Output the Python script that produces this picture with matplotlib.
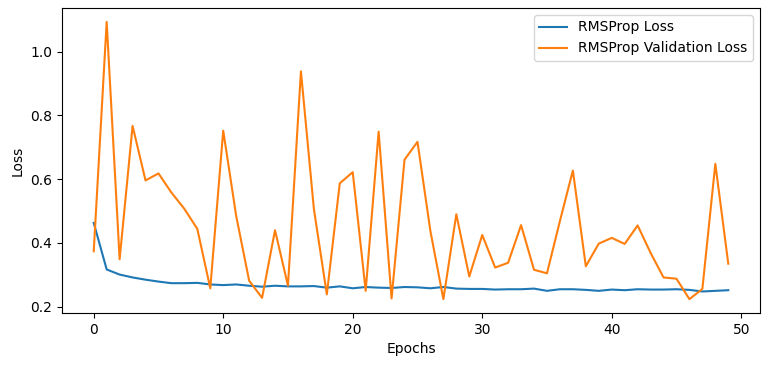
import matplotlib
matplotlib.use("Agg")
import matplotlib.pyplot as plt

epochs = list(range(50))
train_loss = [0.463, 0.317, 0.301, 0.292, 0.285, 0.279, 0.274, 0.274, 0.275, 0.270,
              0.268, 0.270, 0.266, 0.263, 0.266, 0.264, 0.264, 0.265, 0.260, 0.264,
              0.258, 0.262, 0.260, 0.259, 0.262, 0.261, 0.258, 0.262, 0.257, 0.256,
              0.256, 0.254, 0.255, 0.255, 0.257, 0.250, 0.255, 0.255, 0.253, 0.250,
              0.254, 0.252, 0.255, 0.254, 0.254, 0.255, 0.253, 0.248, 0.250, 0.252]
val_loss = [0.374, 1.093, 0.349, 0.767, 0.596, 0.618, 0.558, 0.507, 0.444, 0.258,
            0.752, 0.485, 0.282, 0.228, 0.440, 0.266, 0.938, 0.507, 0.239, 0.587,
            0.622, 0.250, 0.749, 0.226, 0.661, 0.717, 0.437, 0.224, 0.490, 0.295,
            0.425, 0.323, 0.338, 0.456, 0.316, 0.305, 0.469, 0.627, 0.327, 0.398,
            0.416, 0.397, 0.455, 0.369, 0.292, 0.288, 0.224, 0.256, 0.648, 0.335]

fig = plt.figure(figsize=(7.68, 3.65), dpi=100)
ax = fig.add_axes([62/768, 1 - 313/365, (760 - 62)/768, (313 - 8)/365])
ax.plot(epochs, train_loss, label="RMSProp Loss")
ax.plot(epochs, val_loss, label="RMSProp Validation Loss")
ax.set_xlabel("Epochs")
ax.set_ylabel("Loss")
ax.legend(loc="upper right")
fig.savefig("out.png", dpi=100)
